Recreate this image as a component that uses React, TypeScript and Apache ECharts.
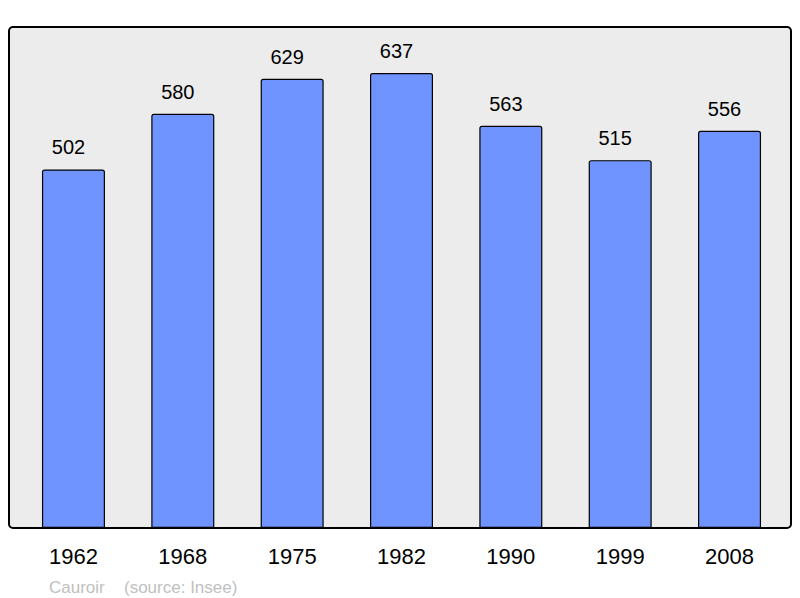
import React, { useEffect, useRef } from "react";
import * as echarts from "echarts";

const years = ["1962", "1968", "1975", "1982", "1990", "1999", "2008"];
const population = [502, 580, 629, 637, 563, 515, 556];
const footerAuthor = "Cauroir";
const footerSource = "(source: Insee)";

export default function App() {
  const ref = useRef<HTMLDivElement>(null);
  useEffect(() => {
    if (!ref.current) return;
    const chart = echarts.init(ref.current, null, { renderer: "svg" });
    chart.setOption({
      animation: false,
      backgroundColor: "#ffffff",
      textStyle: { fontFamily: "Liberation Sans, Arial, sans-serif" },
      graphic: [
        {
          type: "rect",
          z: -10,
          shape: { x: 9, y: 27, width: 782, height: 501, r: 4 },
          style: { fill: "#ececec", stroke: "#000000", lineWidth: 2 },
        },
        {
          type: "text",
          x: 49,
          y: 587,
          style: {
            text: footerAuthor,
            fill: "#c0c0c0",
            font: "17px 'Liberation Sans', Arial, sans-serif",
            textVerticalAlign: "middle",
          },
        },
        {
          type: "text",
          x: 124,
          y: 587,
          style: {
            text: footerSource,
            fill: "#c0c0c0",
            font: "17px 'Liberation Sans', Arial, sans-serif",
            textVerticalAlign: "middle",
          },
        },
      ],
      grid: { left: 18.8, top: 28, width: 765.4, height: 500, containLabel: false },
      xAxis: {
        type: "category",
        data: years,
        axisLine: { show: false },
        axisTick: { show: false },
        axisLabel: {
          color: "#000000",
          fontSize: 22,
          margin: 17,
          fontFamily: "Liberation Sans, Arial, sans-serif",
        },
      },
      yAxis: {
        type: "value",
        min: 0,
        max: 700,
        show: false,
        splitLine: { show: false },
      },
      series: [
        {
          type: "bar",
          data: population,
          barWidth: 63,
          itemStyle: {
            color: "#7094ff",
            borderColor: "#000000",
            borderWidth: 1.2,
            borderRadius: [2, 2, 0, 0],
          },
          label: {
            show: true,
            position: "top",
            distance: 12,
            offset: [-5, 0],
            color: "#000000",
            fontSize: 20,
            fontFamily: "Liberation Sans, Arial, sans-serif",
          },
        },
      ],
    });
    return () => chart.dispose();
  }, []);
  return (
    <div
      ref={ref}
      style={{ position: "fixed", left: 0, top: 0, width: 800, height: 598 }}
    />
  );
}
